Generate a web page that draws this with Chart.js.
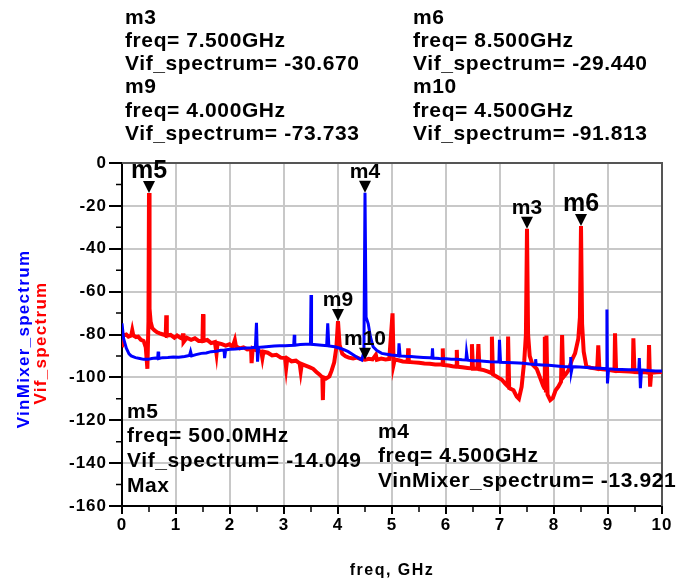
<!DOCTYPE html>
<html>
<head>
<meta charset="utf-8">
<script src="https://cdn.jsdelivr.net/npm/chart.js@4.4.1/dist/chart.umd.min.js"></script>
<style>
  body { margin: 0; background: #fff; }
  #box { width: 698px; height: 586px; }
</style>
</head>
<body>
<div id="box"><canvas id="spectrum"></canvas></div>
<script>
// ---- data: [freq (GHz), level (dB)] ----
const vifSpectrum = [
  [0.00,-86],[0.02,-80.5],[0.08,-80],[0.12,-81],[0.17,-80.5],[0.19,-78],[0.21,-80.5],[0.26,-81.2],
  [0.30,-81],[0.35,-82.5],[0.40,-83],[0.44,-86],[0.47,-96],[0.49,-74],[0.50,-14.049],[0.51,-68],
  [0.53,-74],[0.56,-77],[0.60,-78],[0.65,-79],[0.70,-79.5],[0.76,-80],[0.81,-80.5],[0.82,-71],
  [0.83,-80.5],[0.90,-80.2],[0.97,-81.5],[1.02,-80.5],[1.08,-81.5],[1.12,-82],[1.13,-79.5],[1.14,-83.5],
  [1.20,-81.5],[1.28,-82.5],[1.35,-81.8],[1.42,-83],[1.49,-83],[1.50,-70.5],[1.51,-83],[1.58,-82.5],
  [1.65,-84],[1.72,-83.5],[1.75,-89],[1.77,-84],[1.85,-84.5],[1.92,-85.2],[1.99,-84.6],[2.05,-85.8],
  [2.09,-82.6],[2.11,-85.5],[2.18,-86.5],[2.25,-86],[2.32,-87],[2.39,-86.8],[2.40,-93.4],[2.42,-86.5],
  [2.50,-87.5],[2.58,-88],[2.60,-91],[2.62,-88],[2.70,-88.5],[2.78,-89.8],[2.86,-89.5],[2.94,-90.8],
  [3.02,-91],[3.04,-95.6],[3.06,-91.2],[3.14,-92.5],[3.22,-92.2],[3.29,-93.5],[3.31,-97.3],[3.33,-93.8],
  [3.40,-94.5],[3.47,-95.2],[3.54,-96],[3.60,-97.5],[3.65,-98.5],[3.71,-100],[3.72,-110.6],[3.73,-100],
  [3.78,-100.5],[3.84,-99.5],[3.88,-97],[3.93,-93],[3.97,-86],[4.00,-73.733],[4.03,-85],[4.08,-89],
  [4.14,-90.2],[4.20,-90.8],[4.28,-91.2],[4.35,-90.8],[4.42,-91.5],[4.50,-91.813],[4.57,-91.3],[4.64,-91.6],
  [4.70,-89.5],[4.72,-91.8],[4.80,-91.2],[4.88,-91.6],[4.95,-91.4],[5.01,-70.1],[5.03,-94],[5.05,-91.7],
  [5.12,-92],[5.20,-92.6],[5.29,-92.8],[5.30,-86.5],[5.31,-92.8],[5.40,-93],[5.50,-93.2],[5.60,-93.5],
  [5.70,-93.6],[5.80,-94],[5.93,-94],[5.94,-86.5],[5.95,-94.2],[6.05,-94.5],[6.12,-94.8],[6.19,-95],
  [6.20,-87.2],[6.21,-95],[6.30,-95.3],[6.40,-95.6],[6.47,-95.8],[6.48,-84.5],[6.50,-96],[6.58,-96],
  [6.60,-84.5],[6.62,-96.2],[6.70,-96.6],[6.78,-97.3],[6.84,-98],[6.85,-81],[6.87,-98.6],[6.95,-99.8],
  [7.03,-101],[7.10,-103],[7.14,-104],[7.15,-81],[7.17,-105],[7.25,-106],[7.31,-109],[7.35,-110],
  [7.40,-104.5],[7.45,-92],[7.48,-80],[7.50,-30.67],[7.52,-80],[7.55,-90],[7.60,-94],[7.68,-96],
  [7.74,-100],[7.80,-104],[7.82,-105],[7.83,-81],[7.85,-107],[7.86,-80.5],[7.88,-108],[7.93,-110.6],
  [7.98,-109.5],[8.03,-106],[8.08,-104.3],[8.13,-102],[8.15,-80.2],[8.17,-100],[8.22,-98.5],[8.27,-96.6],
  [8.33,-92],[8.39,-88.8],[8.45,-82],[8.48,-72],[8.50,-29.44],[8.52,-75],[8.55,-88],[8.60,-95],
  [8.68,-95.5],[8.75,-95.8],[8.80,-96],[8.82,-85],[8.84,-96],[8.90,-96.2],[9.00,-96.5],[9.08,-96.8],
  [9.12,-97],[9.13,-79.4],[9.15,-97],[9.22,-97],[9.30,-97.2],[9.40,-97.3],[9.46,-97.4],[9.47,-81.8],
  [9.49,-97.5],[9.58,-97.6],[9.66,-97.5],[9.75,-97.8],[9.76,-84.9],[9.78,-104.3],[9.80,-97.8],[9.90,-97.6],
  [10.0,-97.5]
];

const vinMixerSpectrum = [
  [0.00,-74.8],[0.03,-82],[0.08,-86.4],[0.13,-89],[0.17,-90],[0.25,-90.8],[0.33,-91.2],[0.40,-91.6],
  [0.48,-91.6],[0.55,-91.2],[0.62,-91],[0.66,-91.2],[0.67,-88],[0.68,-91.2],[0.75,-90.8],[0.85,-90.7],
  [0.95,-90.5],[1.05,-90.6],[1.16,-90.3],[1.25,-89.8],[1.27,-88],[1.29,-90],[1.37,-89.4],[1.47,-88.8],
  [1.56,-88.6],[1.65,-88],[1.75,-87.8],[1.83,-87.4],[1.89,-87.3],[1.90,-91],[1.92,-87.2],[2.00,-86.9],
  [2.10,-86.8],[2.20,-86.5],[2.30,-86.3],[2.39,-86.2],[2.47,-86],[2.49,-74.5],[2.51,-92.7],[2.53,-86],
  [2.62,-85.8],[2.72,-85.6],[2.82,-85.4],[2.92,-85.3],[3.02,-85.2],[3.10,-85.1],[3.18,-85],[3.19,-80.2],
  [3.20,-85],[3.30,-84.7],[3.40,-84.6],[3.49,-84.6],[3.50,-61.6],[3.51,-84.6],[3.60,-84.8],[3.70,-85],
  [3.79,-85.2],[3.81,-74.8],[3.83,-85.3],[3.94,-85.7],[4.05,-86.5],[4.12,-87.2],[4.19,-88],[4.28,-89.5],
  [4.38,-91.1],[4.44,-91.9],[4.48,-88],[4.50,-13.921],[4.52,-72],[4.56,-75],[4.60,-81],[4.65,-85.7],
  [4.72,-87.5],[4.81,-88.8],[4.90,-89.2],[4.99,-89.6],[5.08,-89.8],[5.12,-90],[5.13,-84.1],[5.15,-90],
  [5.25,-90.2],[5.35,-90.3],[5.45,-90.5],[5.58,-90.7],[5.70,-90.9],[5.74,-91],[5.75,-86.5],[5.76,-91],
  [5.88,-91.2],[6.00,-91.3],[6.10,-91.5],[6.20,-91.6],[6.30,-91.8],[6.37,-91.9],[6.38,-88.3],[6.40,-92],
  [6.50,-92.2],[6.60,-92.3],[6.70,-92.5],[6.81,-92.7],[6.98,-92.8],[6.99,-82.5],[7.01,-93],[7.12,-93.1],
  [7.25,-93.2],[7.35,-93.3],[7.43,-93.4],[7.55,-93.8],[7.65,-94],[7.66,-91.5],[7.67,-94],[7.78,-94.2],
  [7.90,-94.4],[8.00,-94.6],[8.10,-94.8],[8.20,-95],[8.30,-95],[8.31,-90.5],[8.32,-97.5],[8.34,-95],
  [8.48,-95.2],[8.60,-95.4],[8.72,-95.6],[8.85,-95.8],[8.97,-96],[8.98,-68.3],[8.99,-102.8],[9.01,-96],
  [9.12,-96.2],[9.25,-96.3],[9.38,-96.4],[9.50,-96.5],[9.57,-96.5],[9.58,-91],[9.60,-105],[9.62,-96.5],
  [9.75,-96.8],[9.88,-97],[10.0,-97]
];

const xTicks = [0, 1, 2, 3, 4, 5, 6, 7, 8, 9, 10];
const yTicks = [0, -20, -40, -60, -80, -100, -120, -140, -160];

// markers: name, trace, freq, value
const markerNames = ['m5', 'm4', 'm9', 'm10', 'm3', 'm6'];
const markerTrace = ['Vif_spectrum', 'VinMixer_spectrum', 'Vif_spectrum', 'Vif_spectrum', 'Vif_spectrum', 'Vif_spectrum'];
const markerFreq = [0.5, 4.5, 4.0, 4.5, 7.5, 8.5];
const markerValue = [-14.049, -13.921, -73.733, -91.813, -30.670, -29.440];

const FONT = '"Liberation Sans", Arial, sans-serif';

function freqText(f) {
  return f < 1 ? (f * 1000).toFixed(1) + 'MHz' : f.toFixed(3) + 'GHz';
}
function readout(i) {
  return [markerNames[i], 'freq= ' + freqText(markerFreq[i]),
          markerTrace[i] + '= ' + markerValue[i].toFixed(3)];
}

const markerPlugin = {
  id: 'markers',
  beforeDraw(chart) {
    chart.ctx.letterSpacing = '1px';
  },
  beforeDatasetsDraw(chart) {
    const { ctx, chartArea: a } = chart;
    const xs = chart.scales.x, ys = chart.scales.y;
    ctx.save();
    // top / right frame
    ctx.strokeStyle = '#555';
    ctx.lineWidth = 2;
    ctx.beginPath();
    ctx.moveTo(a.left, a.top);
    ctx.lineTo(a.right, a.top);
    ctx.lineTo(a.right, a.bottom);
    ctx.stroke();
    // minor ticks
    ctx.strokeStyle = '#000';
    ctx.lineWidth = 1.5;
    ctx.beginPath();
    for (let v = -150; v < 0; v += 20) {
      const y = ys.getPixelForValue(v);
      ctx.moveTo(a.left - 6, y); ctx.lineTo(a.left, y);
    }
    for (let f = 0.5; f < 10; f += 1) {
      const x = xs.getPixelForValue(f);
      ctx.moveTo(x, a.bottom); ctx.lineTo(x, a.bottom + 6);
    }
    ctx.stroke();
    ctx.restore();
  },
  afterDraw(chart) {
    const { ctx } = chart;
    const xs = chart.scales.x, ys = chart.scales.y;
    ctx.save();
    ctx.fillStyle = '#000';

    // marker triangles and names
    for (let i = 0; i < markerNames.length; i++) {
      const px = xs.getPixelForValue(markerFreq[i]);
      const py = ys.getPixelForValue(markerValue[i]);
      ctx.beginPath();
      ctx.moveTo(px - 6, py - 12);
      ctx.lineTo(px + 6, py - 12);
      ctx.lineTo(px, py);
      ctx.closePath();
      ctx.fill();
      const big = markerNames[i] === 'm5' || markerNames[i] === 'm6';
      ctx.letterSpacing = '0px';
      ctx.font = 'bold ' + (big ? 25 : 21) + 'px ' + FONT;
      ctx.textAlign = 'center';
      ctx.textBaseline = 'alphabetic';
      ctx.fillText(markerNames[i], px, py - 15);
    }

    // readout blocks
    ctx.letterSpacing = '0.6px';
    ctx.font = 'bold 21px ' + FONT;
    ctx.textAlign = 'left';
    ctx.textBaseline = 'middle';
    const block = (lines, x, y0, step) => lines.forEach((t, k) => ctx.fillText(t, x, y0 + k * step));
    block(readout(4).concat(readout(2)), 125, 18, 23.2);
    block(readout(5).concat(readout(3)), 413, 18, 23.2);
    block(readout(0).concat(['Max']), 127, 412, 24.7);
    block(readout(1), 378, 432, 24.5);

    // axis titles
    ctx.font = 'bold 16px ' + FONT;
    ctx.letterSpacing = '1.5px';
    ctx.textAlign = 'center';
    ctx.fillText('freq, GHz', 392, 571);

    ctx.font = 'bold 17px ' + FONT;
    ctx.letterSpacing = '1.3px';
    ctx.save();
    ctx.translate(24, 339);
    ctx.rotate(-Math.PI / 2);
    ctx.fillStyle = '#0000ff';
    ctx.fillText('VinMixer_spectrum', 0, 0);
    ctx.restore();
    ctx.save();
    ctx.translate(41, 343);
    ctx.rotate(-Math.PI / 2);
    ctx.fillStyle = '#ff0000';
    ctx.fillText('Vif_spectrum', 0, 0);
    ctx.restore();
    ctx.restore();
  }
};

const toXY = pts => pts.map(p => ({ x: p[0], y: p[1] }));
const tickFont = { family: FONT, size: 17, weight: 'bold' };

new Chart(document.getElementById('spectrum'), {
  type: 'line',
  data: {
    datasets: [
      { label: 'VinMixer_spectrum', data: toXY(vinMixerSpectrum), borderColor: '#0000ff',
        borderWidth: 3, pointRadius: 0, tension: 0 },
      { label: 'Vif_spectrum', data: toXY(vifSpectrum), borderColor: '#ff0000',
        borderWidth: 4, pointRadius: 0, tension: 0 }
    ]
  },
  options: {
    responsive: true,
    maintainAspectRatio: false,
    animation: false,
    layout: { padding: { left: 0, top: 163, right: 36, bottom: 0 } },
    plugins: { legend: { display: false }, tooltip: { enabled: false } },
    scales: {
      x: {
        type: 'linear', min: 0, max: 10,
        afterBuildTicks: s => { s.ticks = xTicks.map(v => ({ value: v })); },
        afterFit: s => { s.height = 80; },
        grid: { color: '#c8c8c8', lineWidth: 2, tickLength: 8, tickColor: '#000' },
        border: { color: '#000', width: 2 },
        ticks: { color: '#000', font: tickFont, padding: 1, maxRotation: 0, autoSkip: false }
      },
      y: {
        min: -160, max: 0,
        afterBuildTicks: s => { s.ticks = yTicks.map(v => ({ value: v })); },
        afterFit: s => { s.width = 122; },
        grid: { color: '#c8c8c8', lineWidth: 2, tickLength: 13, tickColor: '#000' },
        border: { color: '#000', width: 2 },
        ticks: { color: '#000', font: tickFont, padding: 2, autoSkip: false }
      }
    }
  },
  plugins: [markerPlugin]
});
</script>
</body>
</html>
